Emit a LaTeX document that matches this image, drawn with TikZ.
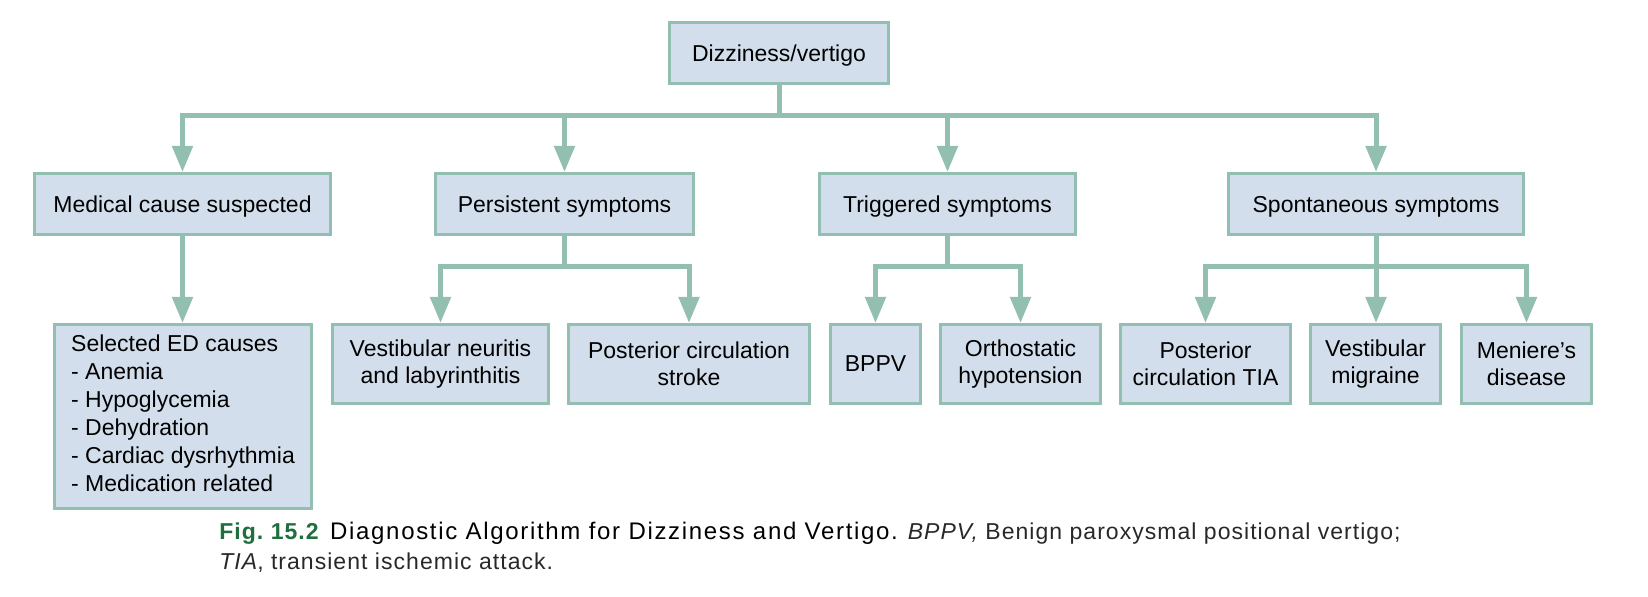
\documentclass[tikz,border=0pt]{standalone}
\usepackage{fontspec}
\setmainfont{Liberation Sans}
\usetikzlibrary{arrows.meta}
\definecolor{boxfill}{HTML}{D3DEEC}
\definecolor{boxline}{HTML}{93BFB1}
\definecolor{figgreen}{HTML}{1E6E3E}
\definecolor{captext}{HTML}{2A2728}
\begin{document}
\begin{tikzpicture}[x=0.5pt,y=-0.5pt,
  box/.style={draw=boxline, fill=boxfill, line width=1.5pt,
    font=\fontsize{11.5}{13.5}\selectfont, align=center, inner sep=0pt,
    text=black},
  oneline/.style={box, minimum height=30.5pt, text height=8.3pt, text depth=0pt},
  rowthree/.style={box, minimum height=39.5pt},
  arr/.style={draw=boxline, line width=2.5pt,
    -{Triangle[length=13pt,width=10pt]}},
]
\useasboundingbox (0,0) rectangle (1648,597);

% top
\node[oneline, minimum width=109.5pt] (top) at (779,53) {Dizziness/vertigo};

% row two
\node[oneline, minimum width=148pt] (med) at (182.5,204) {Medical cause suspected};
\node[oneline, minimum width=129pt] (pers) at (564.5,204) {Persistent symptoms};
\node[oneline, minimum width=128pt] (trig) at (947.5,204) {Triggered symptoms};
\node[oneline, minimum width=147.5pt] (spon) at (1376,204) {Spontaneous symptoms};

% row three
\node[box, align=left, font=\fontsize{11.5}{14}\selectfont, text depth=3pt,
  minimum width=128.5pt, minimum height=92pt] (sel) at (183,416.5)
  {Selected ED causes\\- Anemia\\- Hypoglycemia\\- Dehydration\\- Cardiac dysrhythmia\\- Medication related};
\node[rowthree, minimum width=108pt] (vn) at (440.5,364) {Vestibular neuritis\\and labyrinthitis};
\node[rowthree, minimum width=120.5pt] (pcs) at (689,364) {Posterior circulation\\stroke};
\node[rowthree, minimum width=45pt] (bppv) at (875.5,364) {BPPV};
\node[rowthree, minimum width=80pt] (orth) at (1020.5,364) {Orthostatic\\hypotension};
\node[rowthree, minimum width=85pt] (tia) at (1205.5,364) {Posterior\\circulation TIA};
\node[rowthree, minimum width=65pt] (vm) at (1375.5,364) {Vestibular\\migraine};
\node[rowthree, minimum width=65pt] (men) at (1526.5,364) {Meniere’s\\disease};

% connectors from top
\draw[arr] (top.south) -- ++(0,31) -| (med.north);
\draw[arr] (top.south) -- ++(0,31) -| (pers.north);
\draw[arr] (top.south) -- ++(0,31) -| (trig.north);
\draw[arr] (top.south) -- ++(0,31) -| (spon.north);

% medical
\draw[arr] (med.south) -- (med.south |- sel.north);

% persistent
\draw[arr] (pers.south) -- ++(0,31) -| (vn.north);
\draw[arr] (pers.south) -- ++(0,31) -| (pcs.north);

% triggered
\draw[arr] (trig.south) -- ++(0,31) -| (bppv.north);
\draw[arr] (trig.south) -- ++(0,31) -| (orth.north);

% spontaneous
\draw[arr] (spon.south) -- ++(0,31) -| (tia.north);
\draw[arr] (spon.south) -- (spon.south |- vm.north);
\draw[arr] (spon.south) -- ++(0,31) -| (men.north);

% caption
\node[anchor=base west, align=left, inner sep=0pt, text=captext,
  font=\fontsize{11.5}{15}\selectfont\addfontfeature{LetterSpace=4.5}] (cap) at (219,570)
  {{\color{figgreen}\bfseries Fig.\ 15.2}\enspace {\fontsize{12}{15}\selectfont\addfontfeature{LetterSpace=7}\color{black}Diagnostic Algorithm for Dizziness and Vertigo.} {\itshape BPPV,} Benign paroxysmal positional vertigo;\\
   {\itshape TIA}, transient ischemic attack.};
\end{tikzpicture}
\end{document}
